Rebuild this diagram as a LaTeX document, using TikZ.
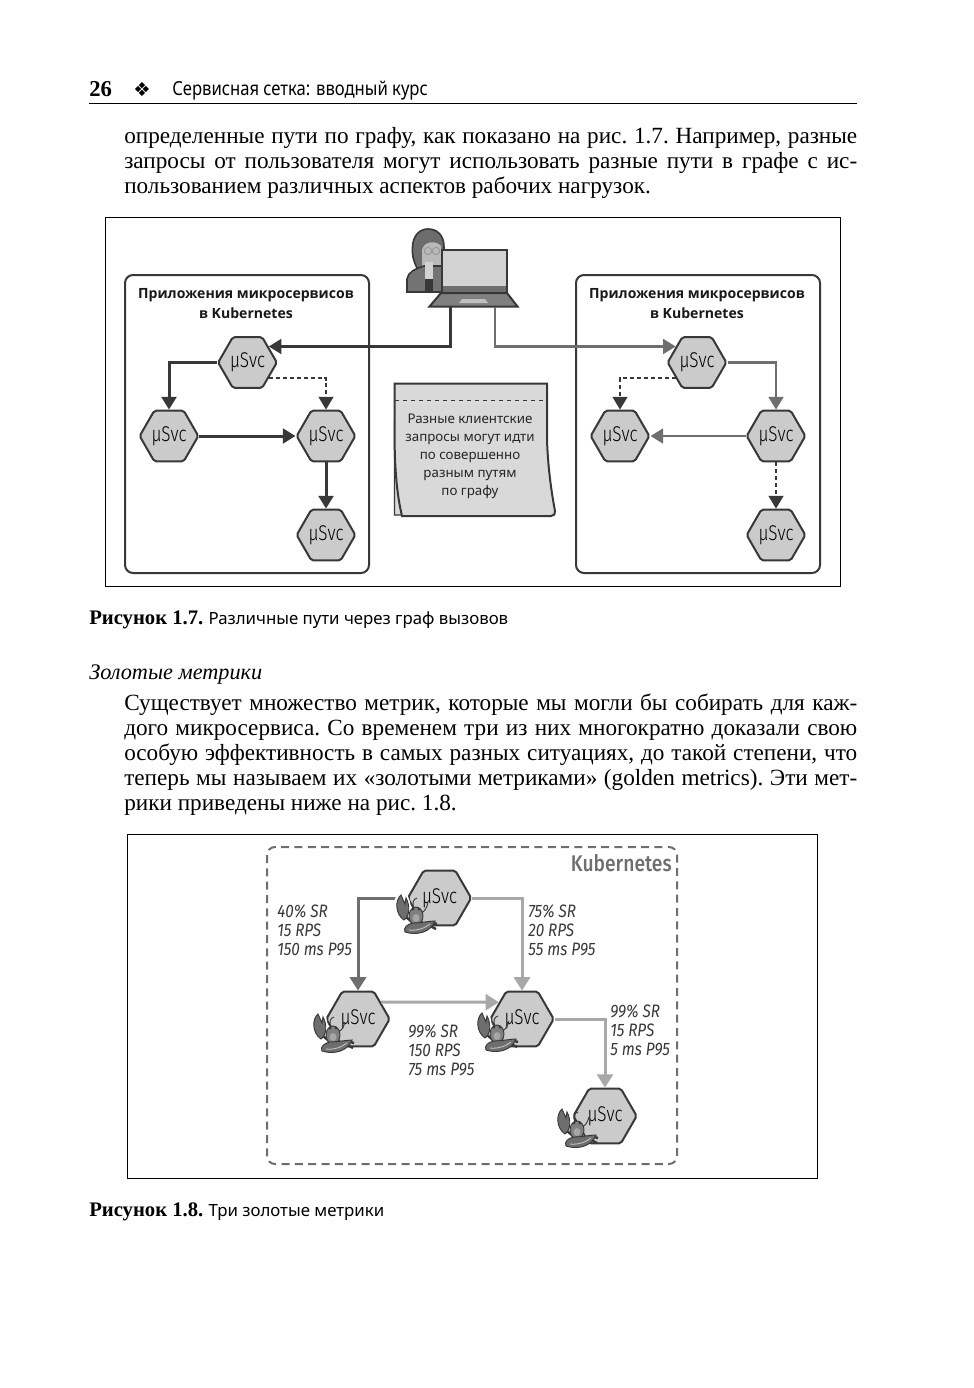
\documentclass[tikz,border=0pt]{standalone}
\usepackage{fontspec}
\setmainfont{Liberation Serif}
\setsansfont{Noto Sans}
\newfontfamily\thinf[FakeStretch=.8]{Fira Sans Light}
\newfontfamily\narrf[FakeStretch=.85]{Fira Sans}
\newfontfamily\medf[FakeStretch=.85]{Fira Sans Medium}
\newfontfamily\ttlf{Open Sans}
\newfontfamily\headf[FakeStretch=.86]{Noto Sans}
\newfontfamily\symf{DejaVu Sans}
\usetikzlibrary{arrows.meta,positioning,shapes.geometric,calc}
\definecolor{ink}{HTML}{383838}
\definecolor{midg}{HTML}{6E6E6E}
\definecolor{paleg}{HTML}{A8A8A8}
\definecolor{hexf}{HTML}{CBCBCB}
\newcommand{\fl}[1]{\makebox[549.75pt][s]{#1}}
\tikzset{hx/.style={regular polygon,regular polygon sides=6,draw=ink,fill=hexf,line width=1.5pt,rounded corners=1.5pt,minimum size=44pt,inner sep=0pt,font=\thinf\fontsize{16}{16}\selectfont},
 hy/.style={hx,minimum size=47.5pt},
 bx/.style={draw=ink,line width=1.5pt,rounded corners=6pt,fill=white},
 ttl/.style={align=center,font=\ttlf\bfseries\fontsize{10.55}{15}\selectfont,text=black!90},
 bd/.style={anchor=west,inner sep=0pt,font=\frenchspacing\fontsize{17.4}{19}\selectfont},
 capt/.style={anchor=west,inner sep=0pt,font=\frenchspacing\fontsize{15.5}{17}\selectfont},
 lbl/.style={anchor=north west,inner sep=0pt,align=left,font=\narrf\itshape\fontsize{13.5}{14.25}\selectfont,text=ink},
 fr/.style={draw=black,line width=.7pt},
 fa/.style={-{Triangle[length=9.5pt,width=11pt]},line width=2.25pt,draw=ink},
 fb/.style={fa,draw=midg,line width=2.1pt},
 fd/.style={-{Triangle[length=9.5pt,width=11pt]},line width=1.5pt,dash pattern=on 3pt off 2.2pt,draw=ink},
 ga/.style={-{Triangle[length=10pt,width=12pt]},line width=2.25pt,draw=midg},
 gb/.style={ga,draw=paleg},
 pics/crab/.style={code={
  \fill[white] (5,12) ellipse [x radius=8.5,y radius=14.5];
  \draw[ink,line width=.7pt] (17,14) .. controls (15,8) and (16,4) .. (20,3);
  \draw[ink,line width=.7pt] (20,13) .. controls (24,20) and (28,18) .. (31,8);
  \draw[ink,line width=1.8pt] (31,30) -- (39,34) (33,27) -- (40,29) (9,22) -- (15,27);
  \draw[ink,fill=midg,line width=.7pt] (4,0) .. controls (-2,5) and (-2,19) .. (7,25) .. controls (13,21) and (13,10) .. (9,3) -- (8,9) -- cycle;
  \draw[ink,fill=gray,line width=.7pt] (19,21) ellipse [x radius=7,y radius=9];
  \fill[ink] (16,14) circle [radius=1.5] (22,14) circle [radius=1.5];
  \fill[gray!70] (19,23) ellipse [x radius=3.5,y radius=4];
  \draw[ink,fill=midg,line width=.7pt] (8,37) .. controls (20,41) and (34,37) .. (38,26) .. controls (32,26) and (24,28) .. (16,28) .. controls (10,29) and (6,33) .. (8,37) -- cycle;
  \draw[gray!40,line width=.6pt] (12,35) .. controls (20,36) and (28,33) .. (33,29);
 }}}
\begin{document}
\begin{tikzpicture}[x=.75pt,y=-.75pt]
\path[use as bounding box] (0,0) rectangle (974,1388);
\node[anchor=west,inner sep=0pt,font=\bfseries\fontsize{17}{19}\selectfont](pgno) at (89,89){26};
\node[inner sep=0pt,font=\symf\fontsize{14.5}{14}\selectfont](orn) at (142,89.5){❖};
\node[anchor=west,inner sep=0pt,font=\headf\fontsize{14.5}{17}\selectfont](runhd) at (172,91){Сервисная сетка: вводный курс};
\draw[line width=1.4pt] (89,103.5)--(857,103.5);
\node[bd](ta) at (124,138){\fl{определенные пути по графу, как показано на рис. 1.7. Например, разные}};
\node[bd](tb) at (124,163){\fl{запросы от пользователя могут использовать разные пути в графе с ис-}};
\node[bd](tc) at (124,188){пользованием различных аспектов рабочих нагрузок.};
\draw[fr] (105,217) rectangle (840,586);
\draw[bx] (125,275) rectangle (369,573);
\draw[bx] (576,275) rectangle (820,573);
\node[ttl](tl) at (246,303.5){Приложения микросервисов\\в Kubernetes};
\node[ttl](tr) at (697,303.5){Приложения микросервисов\\в Kubernetes};
\draw[ink,fill=gray!85!black,line width=1.2pt] (417,268) .. controls (413,260) and (412,255) .. (412.5,247) .. controls (413,235) and (420,229) .. (428,229) .. controls (437,229) and (444,235) .. (444,247) -- (444,268) -- cycle;
\fill[gray!55] (422,268) -- (422,250) .. controls (424,241) and (436,240) .. (441,246) -- (441,268) -- cycle;
\draw[ink,fill=gray!90!black,line width=1.2pt] (407,292) -- (407,279) .. controls (408,272) and (415,269) .. (424,266) -- (442,266) -- (442,292) -- cycle;
\fill[gray!35] (425,262) rectangle (433,279);
\fill[ink] (425,279) rectangle (433,292);
\draw[gray!85,line width=.6pt] (428,251) circle [radius=3.6] (436,251) circle [radius=3.6] (431.6,251)--(432.4,251);
\draw[ink,fill=gray!35,line width=1.5pt] (441.5,249.5) rectangle (506.5,293);
\fill[midg] (442.5,286) rectangle (505.5,292);
\draw[ink,fill=gray,line width=1.5pt] (441,293) -- (507,293) -- (517.5,306.5) -- (429.5,306.5) -- cycle;
\fill[gray!50] (462,299) -- (485,299) -- (488,303) -- (459,303) -- cycle;
\coordinate (lapa) at (450,307);
\coordinate (lapb) at (495,307);
\node[hx](ha) at (247.5,362.5){µSvc};\node[hx](hb) at (169,436){µSvc};
\node[hx](hc) at (326,436){µSvc};\node[hx](hd) at (326,535){µSvc};
\node[hx](he) at (697,362.5){µSvc};\node[hx](hf) at (620,436){µSvc};
\node[hx](hg) at (776,436){µSvc};\node[hx](hh) at (776,535){µSvc};
\draw[fa] (lapa) |- (ha.37);
\draw[fa] (ha.west) -| (hb.north);
\draw[fd] (ha.-36) -| (hc.north);
\draw[fa] (hb.east) -- (hc.west);
\draw[fa] (hc.south) -- (hd.north);
\draw[fb] (lapb) |- (he.143);
\draw[fb] (he.east) -| (hg.north);
\draw[fd] (he.-144) -| (hf.north);
\draw[fb] (hg.west) -- (hf.east);
\draw[fd] (hg.south) -- (hh.north);
\draw[ink,fill=gray!30,line width=1.1pt] (394.5,420) -- (394.5,515) -- (402,515) -- (402,500) -- cycle;
\draw[ink,fill=gray!30,line width=1.5pt] (394.5,383.5) -- (547,383.5) -- (547,440) .. controls (548,470) and (552,495) .. (555,511) .. controls (555.5,514) and (554,516) .. (551,516) -- (402,516) .. controls (397,495) and (394.5,470) .. (394.5,430) -- cycle;
\draw[ink,line width=.4pt,dashed] (395,400.5)--(546,400.5);
\node[align=center,inner sep=0pt,font=\sffamily\fontsize{10}{13.5}\selectfont,text=black!85](nt) at (470,456.5){Разные клиентские\\запросы могут идти\\по совершенно\\разным путям\\по графу};
\node[capt](capa) at (89,620){\textbf{Рисунок 1.7.} {\sffamily\fontsize{12.6}{15}\selectfont Различные пути через граф вызовов}};
\node[anchor=west,inner sep=0pt,font=\itshape\fontsize{16.7}{19}\selectfont](sec) at (89,674){Золотые метрики};
\node[bd](ua) at (124,705){\fl{Существует множество метрик, которые мы могли бы собирать для каж-}};
\node[bd](ub) at (124,730){\fl{дого микросервиса. Со временем три из них многократно доказали свою}};
\node[bd](uc) at (124,755){\fl{особую эффективность в самых разных ситуациях, до такой степени, что}};
\node[bd](ud) at (124,780){\fl{теперь мы называем их «золотыми метриками» (golden metrics). Эти мет-}};
\node[bd](ue) at (124,805){рики приведены ниже на рис. 1.8.};
\draw[fr] (127,834) rectangle (817,1178);
\draw[draw=midg,line width=1.5pt,rounded corners=6pt,dash pattern=on 6pt off 4pt] (267,847) rectangle (677,1164);
\node[anchor=east,inner sep=0pt,font=\medf\fontsize{17}{19}\selectfont,text=midg](kb) at (672,863){Kubernetes};
\node[hy](ka) at (439.5,898){µSvc};\node[hy](kb1) at (358,1019){µSvc};
\node[hy](kc) at (522,1019){µSvc};\node[hy](kd) at (605,1116){µSvc};
\draw[ga] (ka.west) -| (kb1.north);
\draw[gb] (ka.east) -| (kc.north);
\draw[gb] (kb1.36) -- (kc.144);
\draw[gb] (kc.east) -| (kd.north);
\pic(cra) at (397,895){crab};
\pic(crb) at (314,1014){crab};
\pic(crc) at (478,1013){crab};
\pic(crd) at (558,1109){crab};
\node[lbl](la) at (277,904){40\% SR\\15 RPS\\150 ms P95};
\node[lbl](lb) at (528,904){75\% SR\\20 RPS\\55 ms P95};
\node[lbl](lc) at (408,1024){99\% SR\\150 RPS\\75 ms P95};
\node[lbl](ld) at (610,1004){99\% SR\\15 RPS\\5 ms P95};
\node[capt](capb) at (89,1212){\textbf{Рисунок 1.8.} {\sffamily\fontsize{12.6}{15}\selectfont Три золотые метрики}};
\end{tikzpicture}
\end{document}
